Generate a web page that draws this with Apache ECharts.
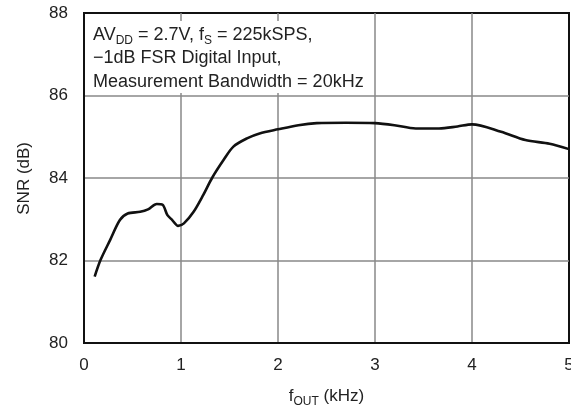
<!DOCTYPE html>
<html>
<head>
<meta charset="utf-8">
<script src="https://cdn.jsdelivr.net/npm/echarts@6/dist/echarts.min.js"></script>
<style>
    html, body { margin: 0; padding: 0; background: #fff; }
    #chart { width: 571px; height: 408px; }
</style>
</head>
<body>
<div id="chart"></div>
<script>
    // 频率 (kHz) 与 SNR (dB)
    var freq = [0.11, 0.17, 0.27, 0.37, 0.45, 0.58, 0.66, 0.75, 0.81, 0.86, 0.91, 0.97, 1.03, 1.13, 1.23, 1.32, 1.44, 1.54, 1.68, 1.81, 2.0, 2.21, 2.4, 2.7, 3.0, 3.2, 3.42, 3.66, 3.85, 4.0, 4.3, 4.55, 4.8, 5.0];
    var snr = [81.61, 82.01, 82.5, 82.98, 83.14, 83.18, 83.24, 83.37, 83.35, 83.1, 82.98, 82.84, 82.9, 83.18, 83.59, 84.0, 84.44, 84.76, 84.96, 85.08, 85.18, 85.28, 85.33, 85.34, 85.33, 85.28, 85.2, 85.2, 85.25, 85.3, 85.12, 84.92, 84.83, 84.7];
    var xTicks = [0, 1, 2, 3, 4, 5];
    var yTicks = [80, 82, 84, 86, 88];

    var font = 'Liberation Sans';
    var fs = 17;

    var myChart = echarts.init(document.getElementById('chart'));

    var pts = freq.map(function (f, i) { return [f, snr[i]]; });

    var option = {
        animation: false,
        backgroundColor: '#fff',
        textStyle: { fontFamily: font },
        grid: {
            left: 84, right: 2, top: 13, bottom: 65,
            outerBoundsMode: 'none',
            containLabel: false,
            show: true, borderColor: '#111', borderWidth: 2
        },
        xAxis: {
            type: 'value',
            min: xTicks[0], max: xTicks[xTicks.length - 1], interval: 1,
            axisLine: { lineStyle: { color: '#111', width: 2 } },
            axisTick: { show: false },
            axisLabel: { color: '#222', fontSize: fs, fontFamily: font, margin: 14 },
            splitLine: { show: true, showMinLine: false, showMaxLine: false, lineStyle: { color: '#888', width: 1.5 } },
            name: '{a|f}{b|OUT}{a| (kHz)}',
            nameLocation: 'middle',
            nameGap: 41,
            nameTextStyle: {
                color: '#222',
                rich: {
                    a: { fontSize: fs, fontFamily: font, color: '#222' },
                    b: { fontSize: 12, fontFamily: font, color: '#222', padding: [12, 0, 0, 0] }
                }
            }
        },
        yAxis: {
            type: 'value',
            min: yTicks[0], max: yTicks[yTicks.length - 1], interval: 2,
            axisLine: { show: true, lineStyle: { color: '#111', width: 2 } },
            axisTick: { show: false },
            axisLabel: { color: '#222', fontSize: fs, fontFamily: font, margin: 16 },
            splitLine: { show: true, showMinLine: false, showMaxLine: false, lineStyle: { color: '#888', width: 1.5 } }
        },
        graphic: [
            {
                type: 'text',
                left: 16, top: 142,
                rotation: Math.PI / 2,
                style: { text: 'SNR (dB)', fontSize: fs, fontFamily: font, fill: '#222' }
            },
            {
                type: 'rect',
                shape: { x: 85, y: 21, width: 289, height: 72 },
                style: { fill: '#fff' },
                z: 5
            },
            {
                type: 'text',
                x: 93, y: 23,
                z: 6,
                style: {
                    text: '{a|AV}{b|DD}{a| = 2.7V, f}{b|S}{a| = 225kSPS,}\n{a|\u22121dB FSR Digital Input,}\n{a|Measurement Bandwidth = 20kHz}',
                    fontFamily: font,
                    fill: '#222',
                    rich: {
                        a: { fontSize: 18, fontFamily: font, fill: '#222', lineHeight: 23.5 },
                        b: { fontSize: 12, fontFamily: font, fill: '#222', padding: [12, 0, 0, 0], lineHeight: 23.5 }
                    }
                }
            }
        ],
        series: [
            {
                type: 'line',
                data: pts,
                smooth: 0.3,
                showSymbol: false,
                lineStyle: { color: '#111', width: 2.6 },
                z: 3
            }
        ]
    };

    myChart.setOption(option);
    window.addEventListener('resize', function () { myChart.resize(); });
</script>
</body>
</html>
